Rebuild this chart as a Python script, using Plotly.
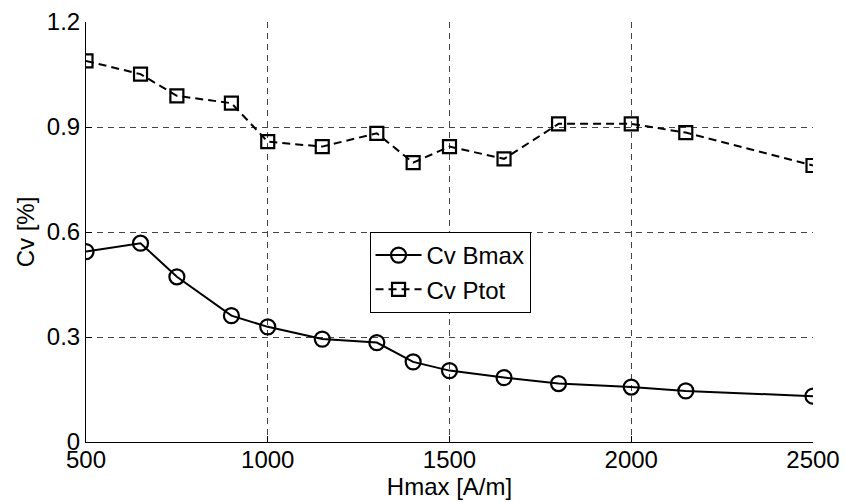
import plotly.graph_objects as go

# data
hmax = [500, 650, 750, 900, 1000, 1150, 1300, 1400, 1500, 1650, 1800, 2000, 2150, 2500]
cv_bmax = [0.544, 0.568, 0.472, 0.361, 0.329, 0.294, 0.284, 0.229, 0.204, 0.184, 0.167, 0.157, 0.146, 0.131]
cv_ptot = [1.089, 1.051, 0.989, 0.968, 0.858, 0.844, 0.882, 0.798, 0.844, 0.809, 0.909, 0.909, 0.884, 0.790]

y_ticks = [0, 0.3, 0.6, 0.9, 1.2]
y_labels = ["0", "0.3", "0.6", "0.9", "1.2"]
x_ticks = [500, 1000, 1500, 2000, 2500]

fig = go.Figure()
fig.add_trace(go.Scatter(
    x=hmax, y=cv_bmax, name="Cv Bmax", mode="lines+markers",
    line=dict(color="black", width=2),
    marker=dict(symbol="circle-open", size=15, color="black", line=dict(width=2.2))))
fig.add_trace(go.Scatter(
    x=hmax, y=cv_ptot, name="Cv Ptot", mode="lines+markers",
    line=dict(color="black", width=2, dash="8px,5px"),
    marker=dict(symbol="square-open", size=13, color="black", line=dict(width=2.2))))

axis_font = dict(family="Liberation Sans, Arial", size=24, color="black")
fig.update_xaxes(range=[500, 2500], tickvals=x_ticks, showgrid=True,
                 gridcolor="#444", griddash="6px,5px", gridwidth=1,
                 showline=True, linecolor="black", linewidth=1,
                 ticks="inside", ticklen=6, tickcolor="black",
                 tickfont=axis_font, zeroline=False, automargin=False,
                 ticklabelstandoff=-4,
                 title=dict(text="Hmax [A/m]", font=axis_font, standoff=0))
fig.update_yaxes(range=[0, 1.2], tickvals=y_ticks, ticktext=y_labels, showgrid=True,
                 gridcolor="#444", griddash="6px,5px", gridwidth=1,
                 showline=True, linecolor="black", linewidth=1,
                 ticks="inside", ticklen=6, tickcolor="black",
                 tickfont=axis_font, zeroline=False, automargin=False,
                 title=dict(text="Cv [%]", font=axis_font, standoff=5))

fig.update_layout(
    width=846, height=502,
    margin=dict(l=86, r=33, t=22, b=60),
    plot_bgcolor="white", paper_bgcolor="white",
    font=axis_font,
    legend=dict(x=0.39, y=0.5, xanchor="left", yanchor="top",
                bgcolor="white", bordercolor="black", borderwidth=1,
                font=axis_font, tracegroupgap=0, itemwidth=46),
)

# drop the page's default body margin so the figure sits at the window corner
fig.write_html("out.html", config={"displayModeBar": False},
               post_script="document.body.style.margin='0';")
